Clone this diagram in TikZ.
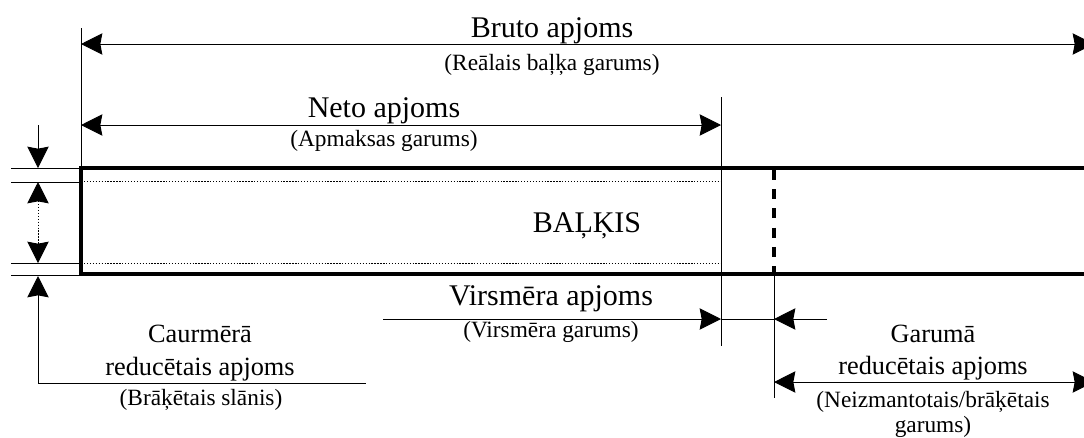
\documentclass[tikz,border=0pt]{standalone}
\usepackage{fontspec}
\setmainfont{Liberation Serif}
\usetikzlibrary{arrows.meta}
\begin{document}
\begin{tikzpicture}[x=0.75pt,y=-0.75pt,
  >={Stealth[length=16pt,width=16pt,inset=1.5pt]},
  thinline/.style={line width=0.75pt},
  beamline/.style={line width=3pt,line join=miter},
  dotline/.style={line width=0.7pt,dash pattern=on 1pt off 1.2pt},
  cutline/.style={line width=3.5pt,dash pattern=on 7.5pt off 6.9pt},
  bigtext/.style={font=\fontsize{22.5}{27}\selectfont,inner sep=0pt,anchor=base},
  midtext/.style={font=\fontsize{19.75}{24}\selectfont,inner sep=0pt,anchor=base},
  smalltext/.style={font=\fontsize{17.5}{21}\selectfont,inner sep=0pt,anchor=base}]
\useasboundingbox (0,0) rectangle (1084,437);
\clip (0,0) rectangle (1084,437);

% coordinates
\coordinate (Ltop) at (81,28);
\coordinate (Lbeam) at (81,168);
\coordinate (brutoL) at (81,44);
\coordinate (brutoR) at (1094,44);
\coordinate (netoL) at (81,125);
\coordinate (netoR) at (721,125);
\coordinate (netoTop) at (721,97);
\coordinate (netoBot) at (721,346);
\coordinate (beamTR) at (1095,168);
\coordinate (beamTL) at (81,168);
\coordinate (beamBL) at (81,274);
\coordinate (beamBR) at (1095,274);
\coordinate (dotTL) at (84,181);
\coordinate (dotTR) at (721,181);
\coordinate (dotBL) at (84,263);
\coordinate (dotBR) at (721,263);
\coordinate (cutTop) at (774,170);
\coordinate (cutBot) at (774,274);
\coordinate (cutLow) at (774,398);
\coordinate (virsL) at (383,319);
\coordinate (virsM) at (721,319);
\coordinate (virsN) at (774,319);
\coordinate (virsR) at (827,319);
\coordinate (garL) at (774,382);
\coordinate (garR) at (1094,382);
\coordinate (e1L) at (11,168);
\coordinate (e1R) at (80,168);
\coordinate (e2L) at (11,182);
\coordinate (e2R) at (80,182);
\coordinate (e3L) at (11,263);
\coordinate (e3R) at (80,263);
\coordinate (e4L) at (11,275);
\coordinate (e4R) at (80,275);
\coordinate (a1) at (38,125);
\coordinate (a2) at (38,168);
\coordinate (a3) at (38,182);
\coordinate (a4) at (38,263);
\coordinate (a5) at (38,276);
\coordinate (a6) at (38,383);
\coordinate (a7) at (366,383);

% beam
\draw[beamline] (beamTR) -- (beamTL) -- (beamBL) -- (beamBR);
\draw[dotline] (dotTL) -- (dotTR);
\draw[dotline] (dotBL) -- (dotBR);
\draw[cutline] (cutTop) -- (cutBot);

% extension lines
\draw[thinline] (Ltop) -- (Lbeam);
\draw[thinline] (netoTop) -- (netoBot);
\draw[thinline] (cutBot) -- (cutLow);
\draw[thinline] (e1L) -- (e1R);
\draw[thinline] (e2L) -- (e2R);
\draw[thinline] (e3L) -- (e3R);
\draw[thinline] (e4L) -- (e4R);

% dimension arrows
\draw[thinline,<->] (brutoL) -- (brutoR);
\draw[thinline,<->] (netoL) -- (netoR);
\draw[thinline,->] (virsL) -- (virsM);
\draw[thinline] (virsM) -- (virsN);
\draw[thinline,->] (virsR) -- (virsN);
\draw[thinline,<->] (garL) -- (garR);
\draw[thinline,->] (a1) -- (a2);
\draw[dotline,<->] (a3) -- (a4);
\draw[thinline,->] (a6) -- (a5);
\draw[thinline] (a6) -- (a7);

% texts
\node[bigtext] (bruto) at (552,37) {Bruto apjoms};
\node[smalltext] (brutoS) at (552,70) {(Reālais baļķa garums)};
\node[bigtext] (neto) at (384,117) {Neto apjoms};
\node[smalltext] (netoS) at (384,146) {(Apmaksas garums)};
\node[bigtext] (balkis) at (587,232) {BAĻĶIS};
\node[bigtext] (virs) at (551,305) {Virsmēra apjoms};
\node[smalltext] (virsS) at (551,337) {(Virsmēra garums)};
\node[midtext] (caur1) at (200,342) {Caurmērā};
\node[midtext] (caur2) at (200,375) {reducētais apjoms};
\node[smalltext] (caurS) at (201,405) {(Brāķētais slānis)};
\node[midtext] (gar1) at (933,342) {Garumā};
\node[midtext] (gar2) at (933,374) {reducētais apjoms};
\node[smalltext] (garS1) at (933,407) {(Neizmantotais/brāķētais};
\node[smalltext] (garS2) at (933,432) {garums)};
\end{tikzpicture}
\end{document}
